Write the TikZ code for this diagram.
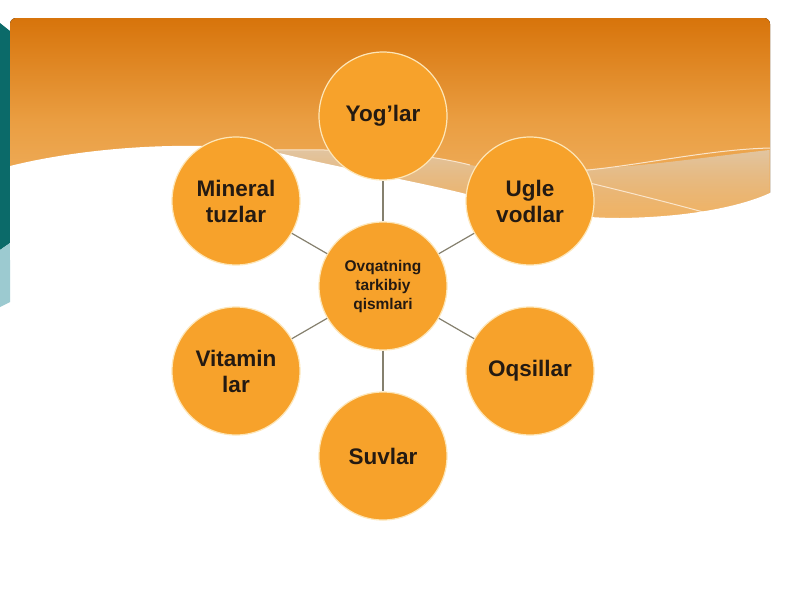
\documentclass[tikz,border=0pt]{standalone}
\usepackage{fontspec}
\setmainfont{Liberation Sans}
\usepackage{color}
\usetikzlibrary{fadings}

\definecolor{bandtop}{HTML}{D7740B}
\definecolor{bandmid}{HTML}{EA9E42}
\definecolor{bandlow}{HTML}{F1B66A}
\definecolor{tancol}{HTML}{E2C6A2}
\definecolor{diskcol}{HTML}{F7A22B}
\definecolor{ringcol}{HTML}{FDE6B8}
\definecolor{inkcol}{HTML}{241A12}
\definecolor{linkcol}{HTML}{85806E}
\definecolor{tealdark}{HTML}{0B6A69}
\definecolor{teallight}{HTML}{9CCAD0}

\begin{document}
\begin{tikzpicture}[x = 1pt, y = -1pt,
  part/.style = {circle, draw = ringcol, line width = 1.2pt, fill = diskcol,
    minimum size = 128pt, inner sep = 0pt, align = center, text = inkcol,
    font = \bfseries\fontsize{22.5}{26}\selectfont},
  hub/.style = {part, font = \bfseries\fontsize{15.5}{19}\selectfont},
  link/.style = {draw = linkcol, line width = 1.2pt},
  sheen/.style = {draw = white!65!bandlow, line width = 1pt}]

\useasboundingbox (0,0) rectangle (800,600);
\fill[white] (0,0) rectangle (800,600);

\fill[tealdark] (0,23) -- (10,31) -- (10,243) -- (0,250) -- cycle;
\fill[teallight] (0,250) -- (10,243) -- (10,302) -- (0,307) -- cycle;

\fill[rounded corners = 6pt, top color = bandtop, bottom color = bandlow, middle color = bandmid]
  (10,225) -- (10,18) -- (770,18) -- (770,225) -- cycle;
\fill[tancol, path fading = south]
  (275,150) .. controls (350,149) and (420,152) .. (470,165)
  .. controls (560,180) and (680,160) .. (770,150) -- (770,215) -- (275,215) -- cycle;

\draw[sheen] (275,150) .. controls (350,149) and (420,152) .. (470,165);
\draw[sheen] (530,172) .. controls (600,176) and (690,150) .. (770,148);
\draw[sheen] (560,176) .. controls (620,190) and (670,203) .. (707,213);

\fill[white] (10,166) .. controls (90,146) and (200,140) .. (275,152)
  .. controls (340,168) and (420,182) .. (470,195)
  .. controls (530,210) and (570,218) .. (620,218)
  .. controls (700,217) and (750,203) .. (772,192) -- (772,260) -- (10,260) -- cycle;

\node[hub] (hub) at (383,286) {Ovqatning\\tarkibiy\\qismlari};

\node[part] (yog) at (383,116) {Yog’lar};
\node[part] (ugle) at (530,201) {Ugle\\vodlar};
\node[part] (oqsil) at (530,371) {Oqsillar};
\node[part] (suv) at (383,456) {Suvlar};
\node[part] (vitamin) at (236,371) {Vitamin\\lar};
\node[part] (mineral) at (236,201) {Mineral\\tuzlar};

\draw[link] (hub) -- (yog);
\draw[link] (hub) -- (ugle);
\draw[link] (hub) -- (oqsil);
\draw[link] (hub) -- (suv);
\draw[link] (hub) -- (vitamin);
\draw[link] (hub) -- (mineral);

\end{tikzpicture}
\end{document}
